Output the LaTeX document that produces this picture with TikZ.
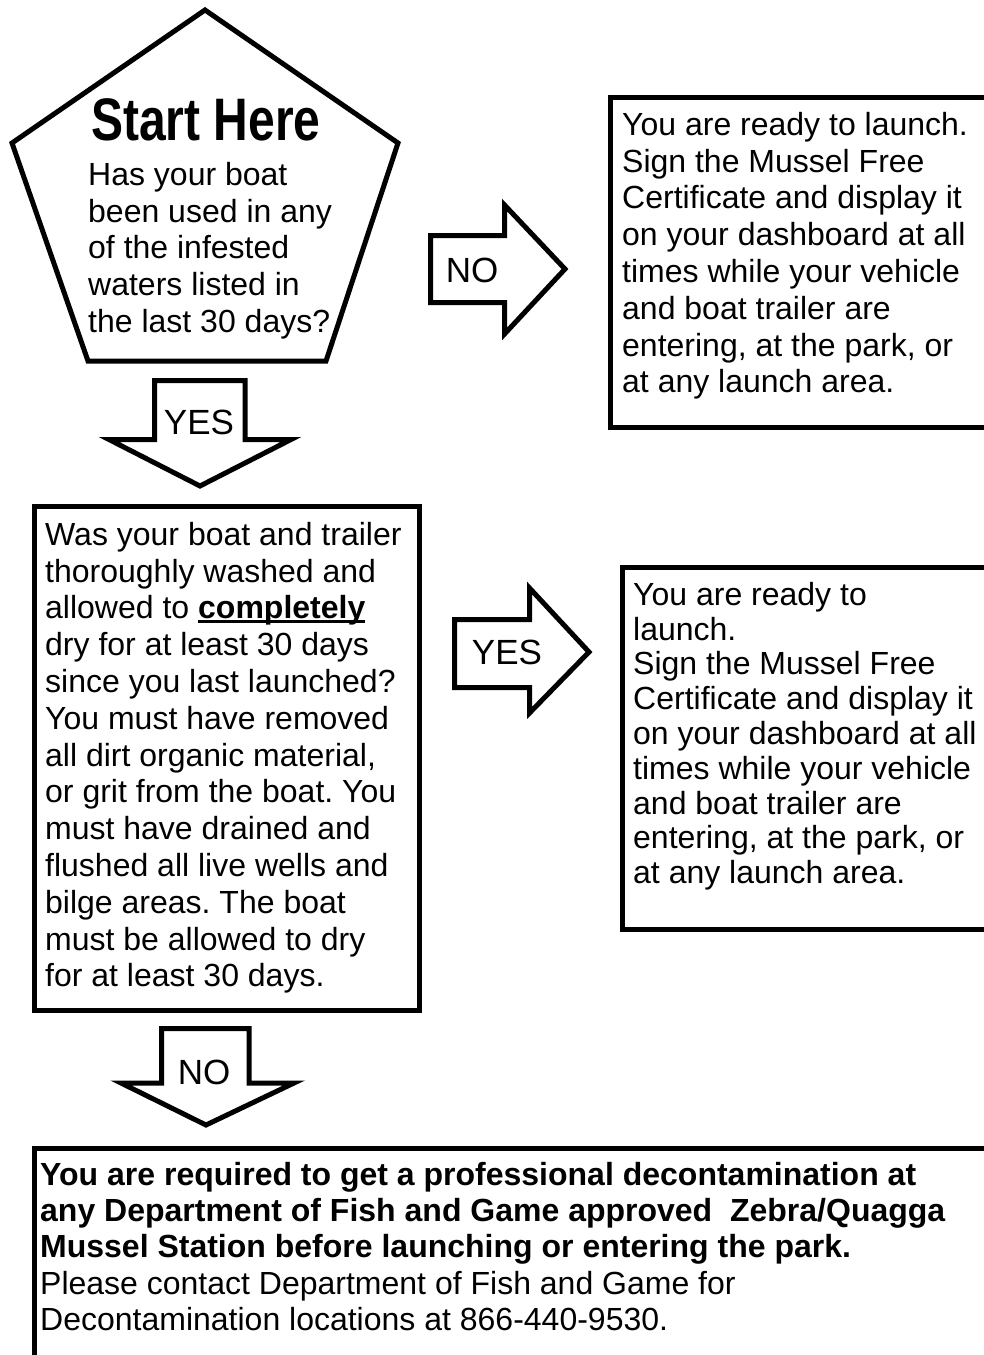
\documentclass[tikz,border=0pt]{standalone}
\usepackage{fontspec}
\setmainfont{Liberation Sans}
\newfontfamily\narrowfont[FakeStretch=0.8]{Liberation Sans}
\newcommand\myul[1]{\setbox0\hbox{#1}\rlap{\rule[-4.5pt]{\wd0}{3pt}}\box0}
\newcommand\firststrut{\rule{0pt}{24pt}}
\frenchspacing
\begin{document}
\begin{tikzpicture}[x=1pt,y=-1pt,
  shapeline/.style={draw=black, line width=5pt, line join=miter, fill=white},
  body/.style={anchor=north west, inner sep=0pt, align=left, font=\frenchspacing\fontsize{32}{36.8}\selectfont},
  lbl/.style={inner sep=0pt, font=\fontsize{35}{40}\selectfont}]
\useasboundingbox (0,0) rectangle (984,1355);
\fill[white] (0,0) rectangle (984,1355);
\begin{scope}
\clip (0,0) rectangle (984,1355);
% pentagon
\coordinate (p1) at (205,10);
\coordinate (p2) at (398,143);
\coordinate (p3) at (326,361);
\coordinate (p4) at (88,361);
\coordinate (p5) at (12,143);
\draw[shapeline] (p1) -- (p2) -- (p3) -- (p4) -- (p5) -- cycle;
\node[inner sep=0pt, anchor=base, font=\narrowfont\bfseries\fontsize{60}{66}\selectfont] (start) at (206,140) {Start Here};
\node[body] (q1) at (88,161) {\firststrut Has your boat\\been used in any\\of the infested\\waters listed in\\the last 30 days?};
% YES down arrow
\draw[shapeline] (154.5,380.5) -- (245,380.5) -- (245,439.5) -- (291,439.5) -- (200,486) -- (109,439.5) -- (154.5,439.5) -- cycle;
\node[lbl] (yes1) at (199,422) {YES};
% NO right arrow
\draw[shapeline] (430.5,235.5) -- (504.5,235.5) -- (504.5,205) -- (565,269) -- (504.5,334) -- (504.5,302.5) -- (430.5,302.5) -- cycle;
\node[lbl] (no1) at (472,270) {NO};
% top right box
\draw[shapeline] (610.5,97.5) rectangle (1000,427.5);
\node[body] (r1) at (622,111) {\firststrut You are ready to launch.\\Sign the Mussel Free\\Certificate and display it\\on your dashboard at all\\times while your vehicle\\and boat trailer are\\entering, at the park, or\\at any launch area.};
% middle box
\draw[shapeline] (34.5,506.5) rectangle (419.5,1010.5);
\node[body] (q2) at (45,521) {\firststrut Was your boat and trailer\\thoroughly washed and\\allowed to \myul{\textbf{completely}}\\dry for at least 30 days\\since you last launched?\\You must have removed\\all dirt organic material,\\or grit from the boat. You\\must have drained and\\flushed all live wells and\\bilge areas. The boat\\must be allowed to dry\\for at least 30 days.};
% YES right arrow
\draw[shapeline] (454.5,619.5) -- (529.5,619.5) -- (529.5,588) -- (589,652) -- (529.5,713) -- (529.5,687.5) -- (454.5,687.5) -- cycle;
\node[lbl] (yes2) at (507,652) {YES};
% second right box
\draw[shapeline] (622.5,567) rectangle (1000,929);
\node[body, font=\frenchspacing\fontsize{32}{34.8}\selectfont] (r2) at (633,581) {\firststrut You are ready to\\launch.\\Sign the Mussel Free\\Certificate and display it\\on your dashboard at all\\times while your vehicle\\and boat trailer are\\entering, at the park, or\\at any launch area.};
% NO down arrow
\draw[shapeline] (161.5,1028.5) -- (249,1028.5) -- (249,1083) -- (294,1083) -- (206,1125) -- (121,1083) -- (161.5,1083) -- cycle;
\node[lbl] (no2) at (204,1072) {NO};
% bottom box
\draw[shapeline] (34.5,1148.5) rectangle (1000,1400);
\node[body, font=\frenchspacing\fontsize{32}{36.3}\selectfont] (r3) at (40,1161) {\firststrut\textbf{You are required to get a professional decontamination at}\\\textbf{any Department of Fish and Game approved~ Zebra/Quagga}\\\textbf{Mussel Station before launching or entering the park.}\\Please contact Department of Fish and Game for\\Decontamination locations at 866-440-9530.};
\end{scope}
\end{tikzpicture}
\end{document}
